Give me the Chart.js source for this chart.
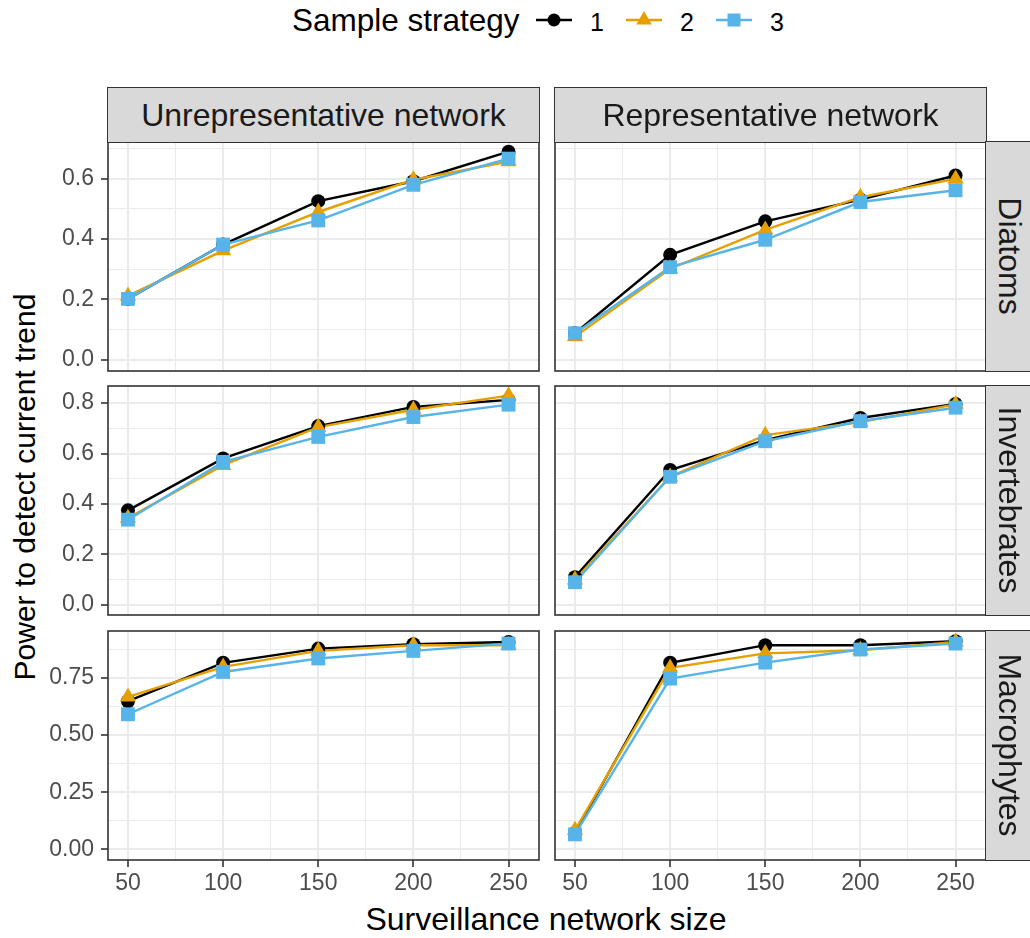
<!DOCTYPE html>
<html>
<head>
<meta charset="utf-8">
<script src="https://cdn.jsdelivr.net/npm/chart.js@4.4.1/dist/chart.umd.min.js"></script>
<style>
  body { margin: 0; width: 1030px; height: 938px; overflow: hidden; position: relative; background: #fff;
         font-family: "Liberation Sans", Arial, sans-serif; }
  canvas.panel { position: absolute; }
  .strip { position: absolute; box-sizing: border-box; background: #d9d9d9; border: 1.6px solid #333;
           color: #1a1a1a; font-size: 32px; }
  .strip span { position: absolute; white-space: nowrap; line-height: 1; }
  .title { position: absolute; white-space: nowrap; line-height: 1; color: #000; }
  #legend { position: absolute; left: 0; top: 0; }
</style>
</head>
<body>
<svg id="legend" width="1030" height="50"></svg>
<div class="title" id="ytitle" style="font-size:30px; left:25px; top:487px; transform: translate(-50%, -50%) rotate(-90deg);">Power to detect current trend</div>
<div class="title" id="xtitle" style="font-size:32px; left:546px; top:919px; transform: translate(-50%, -50%);">Surveillance network size</div>

<script>
// ─── Data ─────────────────────────────────────────────────────────────────────
const sizes = [50, 100, 150, 200, 250];
const strategies = ['1', '2', '3'];
const columns = ['Unrepresentative network', 'Representative network'];
const groups = ['Diatoms', 'Invertebrates', 'Macrophytes'];

// Diatoms
const diatomsUnrep1 = [0.202, 0.382, 0.526, 0.592, 0.690];
const diatomsUnrep2 = [0.212, 0.362, 0.490, 0.597, 0.657];
const diatomsUnrep3 = [0.202, 0.382, 0.462, 0.580, 0.667];
const diatomsRep1 = [0.088, 0.348, 0.459, 0.531, 0.611];
const diatomsRep2 = [0.077, 0.302, 0.431, 0.539, 0.600];
const diatomsRep3 = [0.088, 0.307, 0.398, 0.523, 0.562];

// Invertebrates
const invertUnrep1 = [0.375, 0.581, 0.709, 0.785, 0.813];
const invertUnrep2 = [0.344, 0.554, 0.705, 0.774, 0.830];
const invertUnrep3 = [0.338, 0.567, 0.666, 0.745, 0.794];
const invertRep1 = [0.110, 0.535, 0.653, 0.741, 0.797];
const invertRep2 = [0.100, 0.508, 0.673, 0.725, 0.795];
const invertRep3 = [0.090, 0.508, 0.649, 0.729, 0.782];

// Macrophytes
const macroUnrep1 = [0.648, 0.816, 0.878, 0.897, 0.907];
const macroUnrep2 = [0.667, 0.798, 0.868, 0.893, 0.893];
const macroUnrep3 = [0.591, 0.776, 0.835, 0.868, 0.900];
const macroRep1 = [0.072, 0.816, 0.893, 0.893, 0.910];
const macroRep2 = [0.085, 0.794, 0.857, 0.871, 0.907];
const macroRep3 = [0.066, 0.747, 0.817, 0.874, 0.900];

// y scale per facet row (free y), x scale shared
const yRanges = [
  { min: -0.037, max: 0.722, step: 0.1, major: 0.2, digits: 1 },
  { min: -0.040, max: 0.868, step: 0.1, major: 0.2, digits: 1 },
  { min: -0.046, max: 0.955, step: 0.125, major: 0.25, digits: 2 },
];
const X_MIN = 39.5, X_MAX = 266;

// ─── Style ────────────────────────────────────────────────────────────────────
const COLORS = ['#000000', '#E69F00', '#56B4E9'];
const POINT_STYLES = ['circle', 'triangle', 'rect'];
const POINT_RADII = [7, 9.4, 9.8];
const GRID = '#EBEBEB';
const TICK_TEXT = '#4D4D4D';
const FONT = '"Liberation Sans", Arial, sans-serif';
const TICK_SIZE = 23;

const ROW_TOPS = [142, 386, 631];
const PANEL_H = 229;
const COL_LEFTS = [108, 555];
const PANEL_W = 431;

const panels = [
  { row: 0, col: 0, series: [diatomsUnrep1, diatomsUnrep2, diatomsUnrep3] },
  { row: 0, col: 1, series: [diatomsRep1, diatomsRep2, diatomsRep3] },
  { row: 1, col: 0, series: [invertUnrep1, invertUnrep2, invertUnrep3] },
  { row: 1, col: 1, series: [invertRep1, invertRep2, invertRep3] },
  { row: 2, col: 0, series: [macroUnrep1, macroUnrep2, macroUnrep3] },
  { row: 2, col: 1, series: [macroRep1, macroRep2, macroRep3] },
];

function isMajor(v, major) {
  return Math.abs(v / major - Math.round(v / major)) < 1e-6;
}

// panel border drawn over the data, like ggplot's panel.border
const panelBorder = {
  id: 'panelBorder',
  afterDraw(chart) {
    const { ctx, chartArea: a } = chart;
    ctx.save();
    ctx.strokeStyle = '#333333';
    ctx.lineWidth = 1.6;
    ctx.strokeRect(a.left, a.top, a.right - a.left, a.bottom - a.top);
    ctx.restore();
  }
};

// ─── Datasets: all lines first, then all points (points on top) ──────────────
function buildDatasets(series) {
  const ds = [];
  series.forEach((vals, i) => {
    const pts = sizes.map((x, j) => ({ x, y: vals[j] }));
    ds.push({
      label: strategies[i], data: pts, borderColor: COLORS[i], borderWidth: 2.4,
      pointRadius: 0, fill: false, tension: 0, order: 5 - i, clip: false,
    });
    ds.push({
      label: strategies[i], data: pts, showLine: false, pointStyle: POINT_STYLES[i],
      pointRadius: POINT_RADII[i], pointBackgroundColor: COLORS[i], pointBorderWidth: 0,
      order: 2 - i, clip: false,
    });
  });
  return ds;
}

// ─── Panels ───────────────────────────────────────────────────────────────────
function makePanel(p) {
  const isLeft = p.col === 0;
  const isBottom = p.row === 2;
  const yr = yRanges[p.row];

  const canvas = document.createElement('canvas');
  canvas.className = 'panel';
  const cLeft = isLeft ? 0 : COL_LEFTS[1] - 10;
  const cWidth = isLeft ? COL_LEFTS[0] + PANEL_W + 10 : 10 + PANEL_W + 10;
  const cTop = ROW_TOPS[p.row] - 10;
  const cHeight = 10 + PANEL_H + (isBottom ? 50 : 10);
  canvas.width = cWidth;
  canvas.height = cHeight;
  canvas.style.left = cLeft + 'px';
  canvas.style.top = cTop + 'px';
  document.body.appendChild(canvas);

  new Chart(canvas, {
    type: 'line',
    data: { datasets: buildDatasets(p.series) },
    options: {
      responsive: false,
      animation: false,
      devicePixelRatio: 1,
      events: [],
      layout: { autoPadding: false, padding: { left: isLeft ? 0 : 10, right: 10, top: 10, bottom: isBottom ? 0 : 10 } },
      plugins: { legend: { display: false }, tooltip: { enabled: false } },
      scales: {
        x: {
          type: 'linear', min: X_MIN, max: X_MAX,
          border: { display: false },
          ticks: {
            stepSize: 25, includeBounds: false, autoSkip: false, maxRotation: 0, minRotation: 0,
            display: isBottom, color: TICK_TEXT, font: { family: FONT, size: TICK_SIZE }, padding: 3,
            callback: v => isMajor(v, 50) ? String(v) : '',
          },
          grid: {
            color: GRID,
            lineWidth: c => (c.tick && isMajor(c.tick.value, 50)) ? 2 : 1,
            drawTicks: isBottom, tickLength: 7, tickWidth: 1.6,
            tickColor: c => (c.tick && isMajor(c.tick.value, 50)) ? '#333333' : 'rgba(0,0,0,0)',
          },
          afterFit: s => { s.height = isBottom ? 50 : 0; s.paddingLeft = 0; s.paddingRight = 0; },
        },
        y: {
          type: 'linear', min: yr.min, max: yr.max,
          border: { display: false },
          ticks: {
            stepSize: yr.step, includeBounds: false, autoSkip: false,
            display: isLeft, color: TICK_TEXT, font: { family: FONT, size: TICK_SIZE }, padding: 7,
            callback: v => isMajor(v, yr.major) ? v.toFixed(yr.digits) : '',
          },
          grid: {
            color: GRID,
            lineWidth: c => (c.tick && isMajor(c.tick.value, yr.major)) ? 2 : 1,
            drawTicks: isLeft, tickLength: 7, tickWidth: 1.6,
            tickColor: c => (c.tick && isMajor(c.tick.value, yr.major)) ? '#333333' : 'rgba(0,0,0,0)',
          },
          afterFit: s => { s.width = isLeft ? COL_LEFTS[0] : 0; s.paddingTop = 0; s.paddingBottom = 0; },
        }
      }
    },
    plugins: [panelBorder]
  });
}

// ─── Strips ───────────────────────────────────────────────────────────────────
function makeStrips() {
  columns.forEach((name, c) => {
    const d = document.createElement('div');
    d.className = 'strip';
    d.style.left = (COL_LEFTS[c] - 0.8) + 'px';
    d.style.top = '86.5px';
    d.style.width = (PANEL_W + 1.6) + 'px';
    d.style.height = (ROW_TOPS[0] + 0.8 - 86.5) + 'px';
    const s = document.createElement('span');
    s.textContent = name;
    s.style.left = '50%';
    s.style.top = '50%';
    s.style.transform = 'translate(-50%, -50%)';
    d.appendChild(s);
    document.body.appendChild(d);
  });
  groups.forEach((name, r) => {
    const d = document.createElement('div');
    d.className = 'strip';
    d.style.left = (COL_LEFTS[1] + PANEL_W - 0.8) + 'px';
    d.style.top = (ROW_TOPS[r] - 0.8) + 'px';
    d.style.width = '60px';
    d.style.height = (PANEL_H + 1.6) + 'px';
    const s = document.createElement('span');
    s.textContent = name;
    s.style.left = '24px';
    s.style.top = '50%';
    s.style.transform = 'translate(-50%, -50%) rotate(90deg)';
    d.appendChild(s);
    document.body.appendChild(d);
  });
}

// ─── Legend ───────────────────────────────────────────────────────────────────
function makeLegend() {
  const svg = document.getElementById('legend');
  const NS = 'http://www.w3.org/2000/svg';
  const el = (tag, attrs, text) => {
    const e = document.createElementNS(NS, tag);
    Object.entries(attrs).forEach(([k, v]) => e.setAttribute(k, v));
    if (text) e.textContent = text;
    svg.appendChild(e);
    return e;
  };
  el('text', { x: 292, y: 31, 'font-size': 31.5, 'font-family': FONT, fill: '#000' }, 'Sample strategy');
  const keyX = [536, 626, 716];
  const cy = 20;
  strategies.forEach((lab, i) => {
    const x0 = keyX[i], cx = x0 + 18;
    el('line', { x1: x0, y1: cy, x2: x0 + 36, y2: cy, stroke: COLORS[i], 'stroke-width': 2.4 });
    if (i === 0) el('circle', { cx, cy, r: 6.5, fill: COLORS[i] });
    if (i === 1) el('polygon', { points: `${cx},${cy - 9} ${cx + 7.8},${cy + 4.5} ${cx - 7.8},${cy + 4.5}`, fill: COLORS[i] });
    if (i === 2) el('rect', { x: cx - 6.5, y: cy - 6.5, width: 13, height: 13, fill: COLORS[i] });
    el('text', { x: x0 + 54, y: 31, 'font-size': 25, 'font-family': FONT, fill: '#000' }, lab);
  });
}

panels.forEach(makePanel);
makeStrips();
makeLegend();
</script>
</body>
</html>
